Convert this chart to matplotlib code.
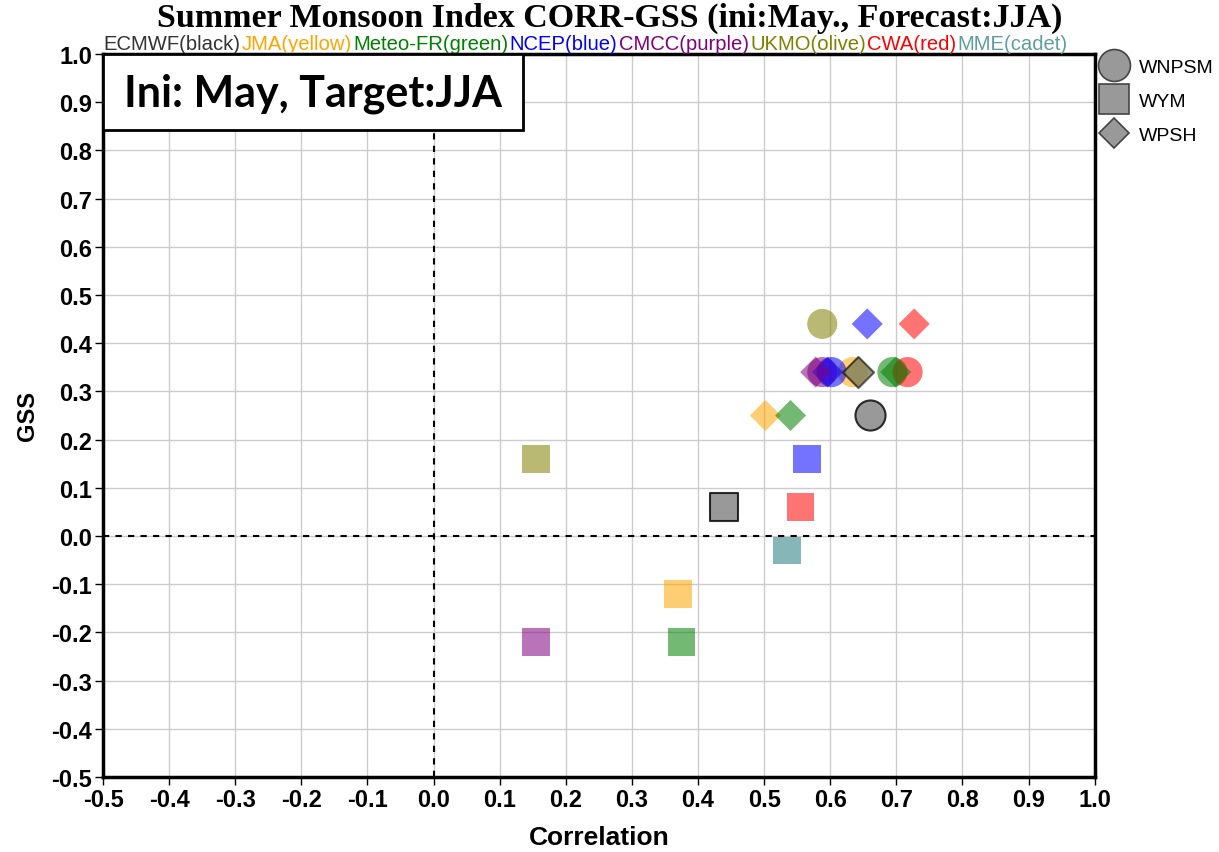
import matplotlib
matplotlib.use('Agg')
import matplotlib.pyplot as plt
from matplotlib.lines import Line2D
from matplotlib.patches import Rectangle

# model names and the colour word shown in the header row
models = ['ECMWF', 'JMA', 'Meteo-FR', 'NCEP', 'CMCC', 'UKMO', 'CWA', 'MME']
color_names = ['black', 'yellow', 'green', 'blue', 'purple', 'olive', 'red', 'cadet']
colors = ['#808080', '#ffa500', '#008000', '#0000ff', '#800080', '#808000', '#ff0000', '#5f9ea0']
text_colors = ['#333333', '#ffa500', '#008000', '#0000ff', '#800080', '#808000', '#ff0000', '#5f9ea0']

# WNPSM (circles): correlation, GSS  (None = not shown)
wnpsm_corr = [0.66, 0.634, 0.694, 0.602, 0.588, 0.588, 0.717, None]
wnpsm_gss = [0.25, 0.34, 0.34, 0.34, 0.34, 0.44, 0.34, None]

# WYM (squares)
wym_corr = [0.44, 0.37, 0.375, 0.565, 0.155, 0.155, 0.555, 0.535]
wym_gss = [0.06, -0.12, -0.22, 0.16, -0.22, 0.16, 0.06, -0.03]

# WPSH (diamonds)
wpsh_corr = [0.642, 0.502, 0.54, 0.596, 0.578, 0.642, 0.727, None]
wpsh_gss = [0.34, 0.25, 0.25, 0.34, 0.34, 0.34, 0.44, None]
wpsh_corr2 = [None, None, 0.699, 0.656, None, None, None, None]  # second diamonds
wpsh_gss2 = [None, None, 0.34, 0.44, None, None, None, None]

xticks = [round(-0.5 + 0.1 * i, 1) for i in range(16)]
yticks = [round(-0.5 + 0.1 * i, 1) for i in range(16)]

fig = plt.figure(figsize=(12.19, 8.53), dpi=100)
ax = fig.add_axes([0.0845, 0.088, 0.8135, 0.8475])
ax.set_xlim(-0.5, 1.0)
ax.set_ylim(-0.5, 1.0)
ax.set_xticks(xticks)
ax.set_yticks(yticks)
ax.set_xticklabels([f'{v:.1f}' for v in xticks], fontsize=17, fontweight='bold',
                   family='Liberation Sans')
ax.set_yticklabels([f'{v:.1f}' for v in yticks], fontsize=17, fontweight='bold',
                   family='Liberation Sans')
ax.grid(True, color='#cccccc', lw=1)
ax.set_axisbelow(True)
for s in ax.spines.values():
    s.set_linewidth(2.5)
ax.tick_params(length=6, width=1, pad=2)

ax.axhline(0, color='black', ls='--', lw=1.5, dashes=(3, 3), zorder=1)
ax.axvline(0, color='black', ls='--', lw=1.5, dashes=(3, 3), zorder=1)

def alpha_of(i):
    return 0.8 if i == 0 else (0.75 if models[i] == 'MME' else 0.55)

def edge_of(i):
    return 'black' if i == 0 else 'none'

# order so that ECMWF is drawn last (on top)
order = [1, 2, 3, 4, 5, 6, 7, 0]
for i in order:
    if wym_corr[i] is not None:
        ax.scatter(wym_corr[i], wym_gss[i], marker='s', s=400, color=colors[i],
                   alpha=alpha_of(i), edgecolors=edge_of(i), linewidths=1.5, zorder=3)
for i in order:
    if wnpsm_corr[i] is not None:
        ax.scatter(wnpsm_corr[i], wnpsm_gss[i], marker='o', s=470, color=colors[i],
                   alpha=alpha_of(i), edgecolors=edge_of(i), linewidths=1.5, zorder=4)
for i in order:
    for cx, cy in ((wpsh_corr, wpsh_gss), (wpsh_corr2, wpsh_gss2)):
        if cx[i] is not None:
            a = 0.6 if i == 0 else alpha_of(i)
            ax.scatter(cx[i], cy[i], marker='D', s=250, color=colors[i],
                       alpha=a, edgecolors=edge_of(i), linewidths=1.5, zorder=5)

ax.set_xlabel('Correlation', fontsize=19, fontweight='bold', family='Liberation Sans',
              labelpad=10)
ax.set_ylabel('GSS', fontsize=17, fontweight='bold', family='Liberation Sans', labelpad=9)

# title
fig.text(0.5, 0.979, 'Summer Monsoon Index CORR-GSS (ini:May., Forecast:JJA)',
         ha='center', va='center', fontsize=24.5, fontweight='bold', family='Liberation Serif')

# coloured header row
prev = None
for m, cn, tc in zip(models, color_names, text_colors):
    label = f'{m}({cn})'
    if prev is None:
        prev = ax.text(0.0, 1.002, label, transform=ax.transAxes, ha='left', va='bottom',
                       fontsize=14.6, color=tc, family='Liberation Sans')
    else:
        prev = ax.annotate(label, xy=(1, 0), xycoords=prev, xytext=(1, 0),
                           textcoords='offset points', ha='left', va='bottom',
                           fontsize=14.6, color=tc, family='Liberation Sans')

# box with initial / target text
ax.add_patch(Rectangle((0, 0.895), 0.4234, 0.105, transform=ax.transAxes, facecolor='white',
                       edgecolor='black', lw=2, zorder=6, clip_on=False))
ax.text(0.2117, 0.947, 'Ini: May, Target:JJA', transform=ax.transAxes, ha='center', va='center',
        fontsize=31, fontweight='bold', family='Lato', zorder=7)

# legend for indices
handles = [
    Line2D([], [], marker='o', ls='none', markersize=23, markerfacecolor='#999999',
           markeredgecolor='#444444', markeredgewidth=1.2, label='WNPSM'),
    Line2D([], [], marker='s', ls='none', markersize=21, markerfacecolor='#999999',
           markeredgecolor='#444444', markeredgewidth=1.2, label='WYM'),
    Line2D([], [], marker='D', ls='none', markersize=15, markerfacecolor='#999999',
           markeredgecolor='#444444', markeredgewidth=1.2, label='WPSH'),
]
leg = ax.legend(handles=handles, loc='upper left', bbox_to_anchor=(1.0, 1.0), frameon=False,
                prop={'family': 'Liberation Sans', 'size': 14}, handletextpad=0.5,
                labelspacing=0.85, borderaxespad=0.0, handlelength=1.6, borderpad=0.2)

fig.savefig('out.png', dpi=100)
